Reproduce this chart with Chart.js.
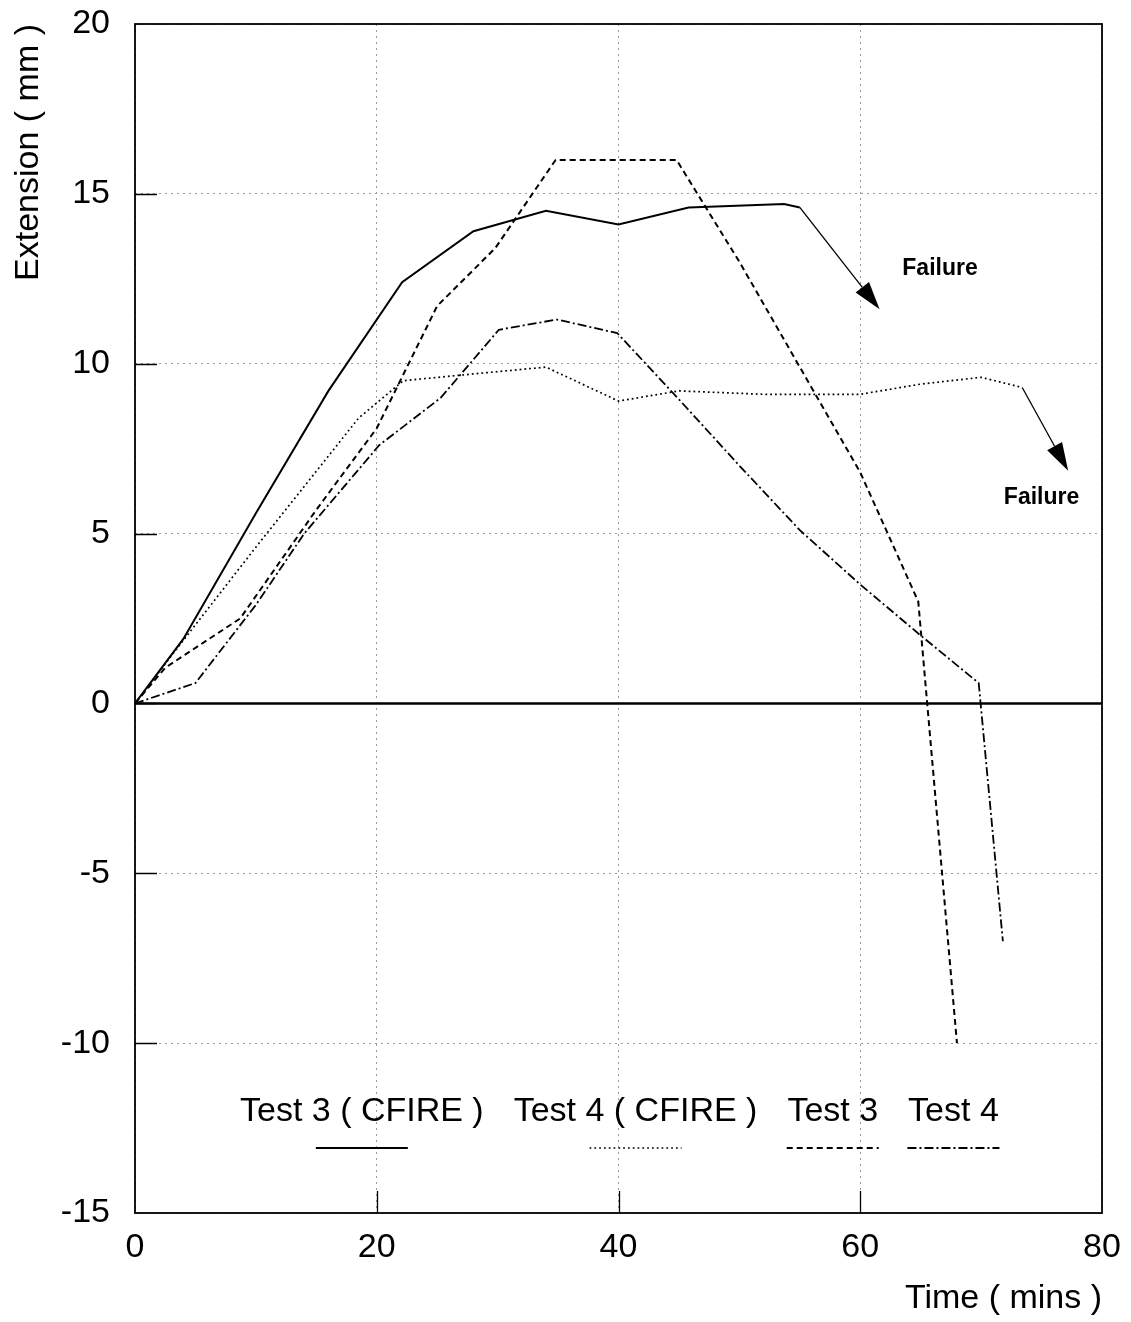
<!DOCTYPE html>
<html>
<head>
<meta charset="utf-8">
<title>Extension vs Time</title>
<script src="https://cdn.jsdelivr.net/npm/chart.js@4"></script>
<style>
  html, body { margin: 0; padding: 0; background: #fff; }
  canvas { display: block; }
</style>
</head>
<body>
<canvas id="extChart" width="1131" height="1322"></canvas>
<script>
// time (mins) / extension (mm) for each test
const test3CfireTime = [0, 4, 10, 16, 22.1, 28, 34, 40, 45.8, 53.7, 55];
const test3CfireExt  = [0, 1.9, 5.6, 9.2, 12.4, 13.9, 14.5, 14.1, 14.6, 14.7, 14.6];

const test4CfireTime = [0, 3, 10, 18.5, 22.2, 28, 34, 40, 45, 52, 60, 65, 70, 73.4];
const test4CfireExt  = [0, 1.4, 4.6, 8.4, 9.5, 9.7, 9.9, 8.9, 9.2, 9.1, 9.1, 9.4, 9.6, 9.3];

const test3Time = [0, 2.5, 8.7, 15, 20, 25, 29.8, 34.8, 44.8, 50, 55, 60, 64.8, 68];
const test3Ext  = [0, 1.05, 2.5, 5.7, 8.1, 11.7, 13.4, 16, 16, 13.0, 9.9, 6.8, 3.0, -10];

const test4Time = [0, 5, 10, 14, 20.2, 25.3, 30.1, 34.9, 39.9, 45, 50, 55, 60, 65, 69.8, 71.8];
const test4Ext  = [0, 0.6, 2.9, 5.0, 7.6, 9.0, 11.0, 11.3, 10.9, 8.95, 7.0, 5.1, 3.5, 2.0, 0.6, -7.0];

const xTicks = [0, 20, 40, 60, 80];
const yTicks = [-15, -10, -5, 0, 5, 10, 15, 20];

// failure arrows: [fromTime, fromExt, tipTime, tipExt]
const failureArrows = [[55, 14.6, 61.6, 11.6], [73.4, 9.3, 77.2, 6.85]];
// "Failure" text anchors: [time, ext]
const failureLabels = [[66.6, 12.8], [75.0, 6.05]];

const FONT = '"Liberation Sans", Arial, sans-serif';

function pts(xs, ys) {
  return xs.map((t, i) => ({ x: t, y: ys[i] }));
}

function series(label, xs, ys, width, dash) {
  return {
    label: label,
    data: pts(xs, ys),
    borderColor: '#000',
    borderWidth: width,
    borderDash: dash,
    pointRadius: 0,
    tension: 0,
    fill: false
  };
}

// frame, zero line, inward ticks, arrows, notes and the in-plot legend
const decorations = {
  id: 'decorations',
  beforeDraw(chart) {
    const ctx = chart.ctx;
    ctx.save();
    ctx.fillStyle = '#fff';
    ctx.fillRect(0, 0, chart.width, chart.height);
    ctx.restore();
  },
  beforeDatasetsDraw(chart) {
    const { ctx, chartArea: a, scales: { y } } = chart;
    const y0 = y.getPixelForValue(0);
    ctx.save();
    ctx.strokeStyle = '#000';
    ctx.lineWidth = 2.5;
    ctx.beginPath();
    ctx.moveTo(a.left, y0);
    ctx.lineTo(a.right, y0);
    ctx.stroke();
    ctx.restore();
  },
  afterDatasetsDraw(chart) {
    const { ctx, chartArea: a, scales: { x, y } } = chart;
    ctx.save();
    ctx.strokeStyle = '#000';
    ctx.fillStyle = '#000';

    ctx.lineWidth = 1.8;
    ctx.strokeRect(a.left, a.top, a.width, a.height);

    ctx.lineWidth = 1.3;
    ctx.beginPath();
    y.ticks.forEach(t => {
      if (t.value <= y.min || t.value >= y.max) return;
      const py = Math.round(y.getPixelForValue(t.value)) + 0.5;
      ctx.moveTo(a.left, py);
      ctx.lineTo(a.left + 22, py);
    });
    x.ticks.forEach(t => {
      if (t.value <= x.min || t.value >= x.max) return;
      const px = Math.round(x.getPixelForValue(t.value)) + 0.5;
      ctx.moveTo(px, a.bottom);
      ctx.lineTo(px, a.bottom - 22);
    });
    ctx.stroke();

    // arrows
    ctx.lineWidth = 1.3;
    failureArrows.forEach(([t0, e0, t1, e1]) => {
      const x0 = x.getPixelForValue(t0), y0 = y.getPixelForValue(e0);
      const x1 = x.getPixelForValue(t1), y1 = y.getPixelForValue(e1);
      const ang = Math.atan2(y1 - y0, x1 - x0);
      const c = Math.cos(ang), s = Math.sin(ang);
      const hl = 28, hw = 8.5;
      const bx = x1 - hl * c, by = y1 - hl * s;
      ctx.beginPath();
      ctx.moveTo(x0, y0);
      ctx.lineTo(bx, by);
      ctx.stroke();
      ctx.beginPath();
      ctx.moveTo(x1, y1);
      ctx.lineTo(bx + hw * s, by - hw * c);
      ctx.lineTo(bx - hw * s, by + hw * c);
      ctx.closePath();
      ctx.fill();
    });

    ctx.font = 'bold 23px ' + FONT;
    ctx.textAlign = 'center';
    ctx.textBaseline = 'middle';
    failureLabels.forEach(([t, e]) => {
      ctx.fillText('Failure', x.getPixelForValue(t), y.getPixelForValue(e));
    });

    // legend: label on top, line sample centred underneath
    ctx.font = '34px ' + FONT;
    ctx.textAlign = 'left';
    const textY = a.bottom - 101;
    const lineY = a.bottom - 65;
    let lx = a.left + 105;
    chart.data.datasets.forEach(ds => {
      const w = ctx.measureText(ds.label).width;
      ctx.fillText(ds.label, lx, textY);
      const cx = lx + w / 2;
      ctx.lineWidth = ds.borderWidth;
      ctx.setLineDash(ds.borderDash || []);
      ctx.beginPath();
      ctx.moveTo(cx - 46, lineY);
      ctx.lineTo(cx + 46, lineY);
      ctx.stroke();
      ctx.setLineDash([]);
      lx += w + 30;
    });

    ctx.restore();
  }
};

const gridOpts = { color: '#9a9a9a', lineWidth: 1, drawTicks: false };
const borderOpts = { display: false, dash: [2, 4] };

let ctx = document.getElementById('extChart');
let extChart = new Chart(ctx, {
  type: 'line',
  data: {
    datasets: [
      series('Test 3 ( CFIRE )', test3CfireTime, test3CfireExt, 2, []),
      series('Test 4 ( CFIRE )', test4CfireTime, test4CfireExt, 1.7, [1.8, 3]),
      series('Test 3', test3Time, test3Ext, 2, [6, 4]),
      series('Test 4', test4Time, test4Ext, 1.8, [9, 3, 2, 3])
    ]
  },
  options: {
    responsive: false,
    animation: false,
    layout: { padding: { top: 24, right: 29, left: 0, bottom: 0 } },
    plugins: {
      legend: { display: false },
      tooltip: { enabled: false }
    },
    scales: {
      x: {
        type: 'linear',
        min: xTicks[0],
        max: xTicks[xTicks.length - 1],
        afterBuildTicks: s => { s.ticks = xTicks.map(v => ({ value: v })); },
        afterFit: s => {
          s.height = 109;
          s.paddingLeft = 0;
          s.paddingRight = 0;
        },
        grid: gridOpts,
        border: borderOpts,
        ticks: {
          color: '#000',
          font: { family: FONT, size: 34 },
          padding: 14,
          maxRotation: 0,
          autoSkip: false
        },
        title: {
          display: true,
          text: 'Time ( mins )',
          align: 'end',
          color: '#000',
          font: { family: FONT, size: 34 },
          padding: { top: 0, bottom: 3 }
        }
      },
      y: {
        type: 'linear',
        min: yTicks[0],
        max: yTicks[yTicks.length - 1],
        afterBuildTicks: s => { s.ticks = yTicks.map(v => ({ value: v })); },
        afterFit: s => {
          s.width = 135;
          s.paddingTop = 0;
          s.paddingBottom = 0;
        },
        grid: gridOpts,
        border: borderOpts,
        ticks: {
          color: '#000',
          font: { family: FONT, size: 34 },
          padding: 25,
          autoSkip: false
        },
        title: {
          display: true,
          text: 'Extension ( mm )',
          align: 'end',
          color: '#000',
          font: { family: FONT, size: 34 },
          padding: { top: 8, bottom: 0 }
        }
      }
    }
  },
  plugins: [decorations]
});
</script>
</body>
</html>
